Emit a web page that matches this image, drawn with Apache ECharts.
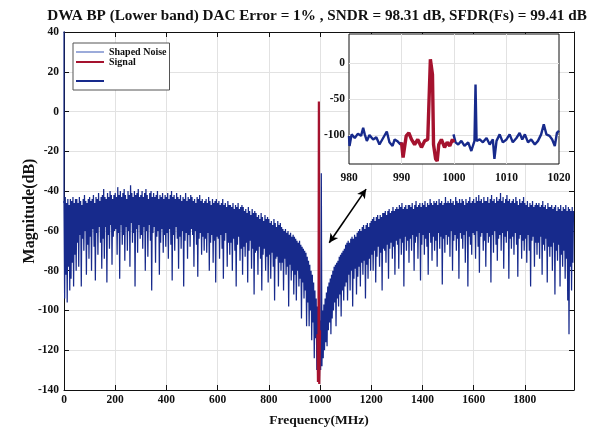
<!DOCTYPE html>
<html>
<head>
<meta charset="utf-8">
<script src="https://cdn.jsdelivr.net/npm/echarts@6/dist/echarts.min.js"></script>
<style>html,body{margin:0;padding:0;background:#fff}#c{width:597px;height:429px}</style>
</head>
<body>
<div id="c"></div>
<script>
// ---------- data ----------
const titleText = 'DWA BP (Lower band) DAC Error = 1% , SNDR = 98.31 dB, SFDR(Fs) = 99.41 dB';
const noiseStartMHz = 0;
const noiseStepMHz = 2.5;
// Shaped noise magnitude (dB), one value per 2.5 MHz bin, 0 .. 1990 MHz (one row = 50 MHz)
const shapedNoiseDb = [
  -45,-94,-43,-82,-46,-96,-44,-78,-47,-90,-44,-84,-45,-76,-43,-88,-46,-72,-44,-80,
  -44,-66,-46,-78,-43,-62,-45,-88,-47,-64,-44,-70,-42,-60,-45,-82,-46,-67,-44,-74,
  -43,-63,-45,-80,-44,-59,-42,-68,-46,-85,-43,-61,-44,-72,-41,-58,-45,-66,-43,-79,
  -42,-64,-39,-74,-43,-58,-44,-86,-41,-62,-43,-69,-40,-57,-42,-77,-44,-63,-42,-60,
  -41,-59,-43,-72,-38,-61,-42,-84,-40,-57,-43,-67,-41,-62,-39,-75,-42,-58,-44,-70,
  -40,-60,-42,-78,-37,-56,-41,-66,-43,-61,-40,-88,-42,-59,-41,-71,-39,-57,-43,-64,
  -42,-62,-40,-69,-43,-58,-41,-80,-39,-60,-42,-73,-44,-57,-41,-65,-40,-90,-43,-61,
  -41,-58,-43,-76,-42,-63,-40,-60,-44,-82,-42,-66,-43,-59,-41,-71,-44,-62,-42,-68,
  -43,-61,-41,-74,-44,-59,-42,-67,-40,-85,-43,-62,-42,-70,-44,-58,-41,-64,-43,-79,
  -44,-63,-42,-69,-45,-60,-43,-88,-44,-65,-41,-61,-45,-74,-43,-62,-44,-68,-42,-59,
  -43,-62,-45,-78,-44,-60,-46,-67,-43,-83,-44,-64,-42,-61,-45,-72,-44,-63,-46,-70,
  -45,-64,-44,-71,-46,-61,-43,-80,-45,-66,-47,-62,-44,-76,-46,-65,-45,-86,-44,-63,
  -46,-64,-45,-74,-47,-62,-46,-69,-44,-84,-47,-65,-46,-61,-48,-78,-45,-66,-47,-72,
  -47,-66,-48,-80,-46,-64,-49,-70,-47,-88,-48,-67,-46,-63,-49,-75,-48,-69,-47,-82,
  -48,-68,-50,-73,-49,-66,-51,-86,-48,-70,-50,-65,-52,-79,-49,-69,-51,-92,-50,-71,
  -51,-70,-53,-82,-52,-68,-54,-74,-51,-90,-53,-72,-55,-69,-52,-80,-54,-73,-53,-86,
  -54,-72,-56,-84,-55,-71,-57,-78,-54,-95,-56,-74,-58,-73,-55,-88,-57,-76,-56,-80,
  -58,-76,-59,-90,-60,-74,-59,-82,-61,-78,-60,-98,-62,-77,-61,-85,-63,-80,-62,-92,
  -63,-82,-64,-95,-65,-80,-66,-88,-65,-84,-67,-104,-68,-86,-69,-94,-70,-90,-71,-108,
  -73,-96,-75,-108,-77,-100,-80,-115,-82,-106,-86,-124,-90,-114,-94,-130,-98,-120,-102,-134,
  -105,-130,-31,-128,-100,-124,-97,-120,-94,-116,-91,-118,-88,-110,-86,-106,-84,-112,-82,-104,
  -80,-100,-78,-96,-77,-108,-76,-94,-75,-98,-73,-92,-72,-103,-71,-90,-70,-95,-69,-88,
  -67,-86,-66,-95,-65,-82,-66,-90,-64,-80,-63,-98,-64,-84,-62,-79,-63,-92,-61,-83,
  -60,-78,-59,-88,-60,-76,-58,-82,-57,-75,-59,-94,-57,-77,-56,-84,-58,-74,-56,-80,
  -55,-72,-54,-80,-53,-70,-55,-86,-53,-73,-52,-68,-54,-78,-52,-71,-53,-90,-51,-69,
  -51,-70,-50,-76,-52,-67,-50,-84,-49,-69,-51,-66,-50,-74,-48,-68,-50,-82,-49,-65,
  -48,-67,-49,-79,-47,-64,-48,-72,-46,-66,-49,-88,-48,-63,-47,-70,-49,-65,-47,-76,
  -47,-64,-48,-70,-46,-62,-49,-80,-47,-66,-45,-63,-48,-74,-47,-61,-46,-85,-48,-67,
  -46,-62,-47,-72,-45,-64,-48,-68,-46,-82,-47,-61,-44,-66,-46,-75,-47,-63,-45,-70,
  -46,-65,-45,-78,-47,-61,-44,-69,-46,-63,-45,-87,-47,-64,-46,-71,-43,-62,-46,-67,
  -45,-63,-46,-73,-44,-60,-46,-80,-45,-65,-47,-62,-43,-70,-45,-64,-46,-84,-44,-61,
  -46,-64,-44,-69,-45,-62,-47,-76,-44,-60,-46,-88,-45,-63,-43,-67,-46,-72,-45,-61,
  -44,-62,-46,-74,-43,-60,-45,-68,-42,-81,-45,-63,-44,-61,-46,-70,-43,-65,-45,-78,
  -45,-61,-43,-66,-46,-63,-44,-86,-42,-62,-45,-71,-44,-60,-46,-67,-43,-75,-45,-64,
  -44,-62,-41,-70,-45,-61,-43,-79,-46,-63,-44,-66,-42,-60,-45,-84,-44,-64,-46,-69,
  -45,-63,-44,-72,-46,-61,-43,-67,-45,-83,-47,-64,-44,-62,-46,-74,-45,-65,-43,-70,
  -46,-64,-47,-76,-45,-62,-48,-70,-46,-88,-47,-65,-45,-63,-48,-78,-47,-66,-46,-72,
  -47,-66,-46,-74,-48,-63,-47,-82,-45,-67,-48,-70,-47,-64,-49,-86,-46,-68,-48,-73,
  -48,-68,-47,-80,-49,-66,-48,-92,-47,-70,-50,-75,-48,-67,-49,-88,-47,-72,-50,-78,
  -48,-70,-49,-84,-47,-74,-50,-95,-48,-112,-49,-78,-50,-90,-48,-76,-50
];
// Signal tone in the main view
const signalMHz = [990, 992, 994, 995.5, 997, 999, 1000];
const signalDb  = [-112, -136, -118, 5, -137, -120, -110];
// DC line (third legend entry)
const dcMHz = [0, 0];
const dcDb  = [-46, 60];
// Inset (zoom 980-1020 MHz)
const insetNoiseLoMHz = [980.0,980.1,980.5,981.1,981.7,982.3,982.7,983.0,983.4,983.9,984.6,985.2,985.8,986.5,987.2,987.7,988.3,988.7,989.3,989.8,990.0];
const insetNoiseLoDb  = [-101,-115,-99,-104,-98,-101,-90,-99,-108,-100,-106,-103,-113,-104,-95,-110,-115,-106,-109,-113,-110];
const insetSignalMHz = [990.0,990.3,990.6,990.9,991.4,991.9,992.5,993.1,993.8,994.4,995.0,995.3,995.5,995.7,995.9,996.1,996.5,996.8,997.1,997.6,998.2,998.7,999.2,999.7,1000.0];
const insetSignalDb  = [-110,-131,-129,-101,-97,-106,-113,-106,-117,-108,-106,-104,5,7,-16,-113,-133,-136,-113,-106,-117,-110,-115,-106,-110];
const insetNoiseHiMHz = [999.9,1000.3,1000.8,1001.4,1002.0,1002.7,1003.3,1003.9,1004.1,1004.3,1004.9,1005.5,1006.2,1006.8,1007.4,1007.7,1008.1,1008.7,1009.3,1010.0,1010.6,1011.2,1011.9,1012.5,1013.0,1013.5,1014.1,1014.7,1015.4,1016.0,1016.6,1017.1,1017.6,1018.2,1018.7,1019.2,1019.6,1020.0];
const insetNoiseHiDb  = [-99,-110,-113,-108,-115,-110,-122,-108,-30,-108,-106,-110,-104,-113,-106,-133,-108,-99,-110,-106,-99,-110,-104,-97,-106,-99,-110,-106,-113,-108,-99,-85,-99,-101,-106,-115,-97,-94];
const insetYLabels = [0, -50, -100];
const insetXGrid = [990, 1000, 1010];
// arrow annotation (data coordinates)
const arrowFrom = [1036, -66];
const arrowTo   = [1180, -39];

// ---------- build ----------
const zip = (a, b) => a.map((v, i) => [v, b[i]]);
const noisePairs = shapedNoiseDb.map((v, i) => [noiseStartMHz + i * noiseStepMHz, v]);

const NAVY = '#172a8c';
const RED = '#a5122e';
const FONT = "'Liberation Serif', 'Times New Roman', serif";
const lbl = { fontFamily: FONT, fontWeight: 'bold', fontSize: 11.5, color: '#111', formatter: v => String(v) };
const GRIDC = '#e2e2e2';
const noSym = { opacity: 0 };

const chart = echarts.init(document.getElementById('c'), null, { renderer: 'canvas' });
chart.setOption({
  animation: false,
  backgroundColor: '#fff',
  title: {
    text: titleText, left: 312, top: 4, textAlign: 'center',
    textStyle: { fontFamily: FONT, fontWeight: 'bold', fontSize: 15.2, color: '#111' }
  },
  legend: [{
    orient: 'vertical', left: 73, top: 43, padding: [4, 3, 23, 2],
    itemGap: 0, itemWidth: 28, itemHeight: 10,
    backgroundColor: '#fff', borderColor: '#555', borderWidth: 1, z: 10,
    itemStyle: noSym,
    textStyle: { fontFamily: FONT, fontWeight: 'bold', fontSize: 10, color: '#111', lineHeight: 10 },
    data: [
      { name: 'Shaped Noise', lineStyle: { color: '#5a72c2', width: 1.2 }, itemStyle: noSym },
      { name: 'Signal', itemStyle: noSym }
    ]
  }, {
    orient: 'vertical', left: 73, top: 76, padding: [0, 3, 0, 2],
    itemWidth: 28, itemHeight: 10, z: 11,
    itemStyle: noSym,
    textStyle: { fontFamily: FONT, fontSize: 10, color: '#111' },
    data: [{ name: ' ', itemStyle: noSym }]
  }],
  grid: [
    { left: 64, right: 23, top: 32, bottom: 39, containLabel: false, outerBoundsMode: 'none' },
    { left: 349, top: 34, width: 210, height: 130, show: true, backgroundColor: '#fff', borderColor: '#111', borderWidth: 1, z: 4, outerBoundsMode: 'none' }
  ],
  xAxis: [
    { type: 'value', gridIndex: 0, min: 0, max: 1992, interval: 200,
      name: 'Frequency(MHz)', nameLocation: 'middle', nameGap: 24, nameMoveOverlap: false,
      nameTextStyle: { fontFamily: FONT, fontWeight: 'bold', fontSize: 13.5, color: '#111' },
      axisLine: { onZero: false, lineStyle: { color: '#111', width: 1 } },
      axisTick: { inside: true, length: 5, lineStyle: { color: '#111' } },
      axisLabel: Object.assign({ margin: 4, showMaxLabel: false }, lbl),
      splitLine: { show: true, lineStyle: { color: GRIDC, width: 1 } } },
    { type: 'value', gridIndex: 0, position: 'top', min: 0, max: 1992, interval: 200,
      axisLine: { onZero: false, lineStyle: { color: '#111', width: 1 } },
      axisTick: { inside: true, length: 5, lineStyle: { color: '#111' } },
      axisLabel: { show: false }, splitLine: { show: false } },
    { type: 'value', gridIndex: 1, min: 980, max: 1020, interval: 10, z: 6,
      axisLine: { show: false, onZero: false }, axisTick: { show: false },
      axisLabel: Object.assign({ margin: 8 }, lbl), splitLine: { show: false } }
  ],
  yAxis: [
    { type: 'value', gridIndex: 0, min: -140, max: 40, interval: 20,
      name: 'Magnitude(dB)', nameLocation: 'middle', nameGap: 26, nameMoveOverlap: false,
      nameTextStyle: { fontFamily: FONT, fontWeight: 'bold', fontSize: 16, color: '#111' },
      axisLine: { show: true, onZero: false, lineStyle: { color: '#111', width: 1 } },
      axisTick: { show: true, inside: true, length: 5, lineStyle: { color: '#111' } },
      axisLabel: Object.assign({ margin: 5 }, lbl),
      splitLine: { show: true, lineStyle: { color: GRIDC, width: 1 } } },
    { type: 'value', gridIndex: 0, position: 'right', min: -140, max: 40, interval: 20,
      axisLine: { show: true, onZero: false, lineStyle: { color: '#111', width: 1 } },
      axisTick: { show: true, inside: true, length: 5, lineStyle: { color: '#111' } },
      axisLabel: { show: false }, splitLine: { show: false } },
    { type: 'value', gridIndex: 1, min: -140, max: 40, interval: 10, z: 6,
      axisLine: { show: false, onZero: false }, axisTick: { show: false },
      axisLabel: Object.assign({}, lbl, { margin: 4, formatter: v => insetYLabels.indexOf(v) >= 0 ? String(v) : '' }),
      splitLine: { show: false } }
  ],
  series: [
    { name: 'Shaped Noise', type: 'line', xAxisIndex: 0, yAxisIndex: 0, symbol: 'none', showSymbol: false, z: 2,
      data: noisePairs, lineStyle: { color: NAVY, width: 1.25 }, itemStyle: { color: NAVY } },
    { name: 'Signal', type: 'line', xAxisIndex: 0, yAxisIndex: 0, symbol: 'none', showSymbol: false, z: 3,
      data: zip(signalMHz, signalDb), lineStyle: { color: RED, width: 2.2 }, itemStyle: { color: RED } },
    { name: ' ', type: 'line', xAxisIndex: 0, yAxisIndex: 0, symbol: 'none', showSymbol: false, z: 2,
      data: zip(dcMHz, dcDb), lineStyle: { color: NAVY, width: 1.2 }, itemStyle: { color: NAVY } },
    { name: 'arrow', type: 'line', xAxisIndex: 0, yAxisIndex: 0, symbol: 'none', z: 3, data: [],
      markLine: { silent: true, symbol: ['arrow', 'arrow'], symbolSize: [7, 9], label: { show: false },
        lineStyle: { color: '#000', width: 1.6, type: 'solid' },
        data: [[{ coord: arrowFrom }, { coord: arrowTo }]] } },
    { name: 'insetGrid', type: 'line', xAxisIndex: 2, yAxisIndex: 2, symbol: 'none', z: 5, data: [],
      markLine: { silent: true, symbol: 'none', label: { show: false },
        lineStyle: { color: GRIDC, width: 1, type: 'solid' },
        data: insetYLabels.map(v => ({ yAxis: v })).concat(insetXGrid.map(v => ({ xAxis: v }))) } },
    { name: 'insetNoiseLo', type: 'line', xAxisIndex: 2, yAxisIndex: 2, symbol: 'none', z: 7,
      data: zip(insetNoiseLoMHz, insetNoiseLoDb), lineStyle: { color: NAVY, width: 2.4 } },
    { name: 'insetNoiseHi', type: 'line', xAxisIndex: 2, yAxisIndex: 2, symbol: 'none', z: 7,
      data: zip(insetNoiseHiMHz, insetNoiseHiDb), lineStyle: { color: NAVY, width: 2.4 } },
    { name: 'insetSignal', type: 'line', xAxisIndex: 2, yAxisIndex: 2, symbol: 'none', z: 8,
      data: zip(insetSignalMHz, insetSignalDb), lineStyle: { color: RED, width: 3.4 } }
  ]
});
</script>
</body>
</html>
